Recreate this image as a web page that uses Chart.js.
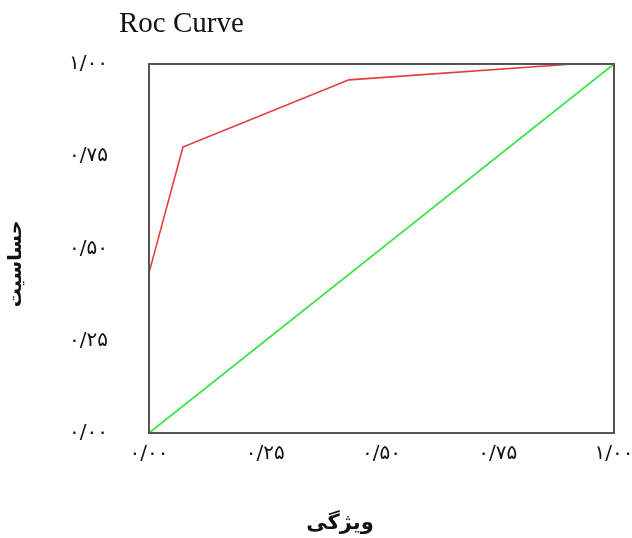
<!DOCTYPE html>
<html>
<head>
<meta charset="utf-8">
<script src="https://cdn.jsdelivr.net/npm/chart.js@4"></script>
<style>
  body { margin: 0; background: #fff; }
  canvas { display: block; }
</style>
</head>
<body>
<canvas id="rocChart" width="632" height="538"></canvas>
<script>
// ROC curve values
const specX = [0, 0.073, 0.43, 0.912, 1];
const sensY = [0.434, 0.775, 0.957, 1, 1];
const refX = [0, 1];
const refY = [0, 1];
const tickValues = [0, 0.25, 0.5, 0.75, 1];
const tickLabels = ['۰/۰۰', '۰/۲۵', '۰/۵۰', '۰/۷۵', '۱/۰۰'];
const chartTitle = 'Roc Curve';
const xTitle = 'ویژگی';
const yTitle = 'حساسیت';

const toPoints = (xs, ys) => xs.map((x, i) => ({ x: x, y: ys[i] }));

// frame + titles drawn on top of the chart
const framePlugin = {
  id: 'frame',
  afterDraw(chart) {
    const { ctx, chartArea } = chart;
    ctx.save();
    ctx.strokeStyle = '#555';
    ctx.lineWidth = 2;
    ctx.strokeRect(chartArea.left, chartArea.top, chartArea.right - chartArea.left, chartArea.bottom - chartArea.top);

    ctx.fillStyle = '#111';
    ctx.textBaseline = 'middle';
    ctx.textAlign = 'left';
    ctx.font = '29px "Liberation Serif"';
    ctx.fillText(chartTitle, 119, 24);

    ctx.textAlign = 'center';
    ctx.font = 'bold 21px "DejaVu Sans"';
    ctx.fillText(xTitle, 340, 524);

    ctx.font = 'bold 19px "DejaVu Sans"';
    ctx.translate(16, 264);
    ctx.rotate(-Math.PI / 2);
    ctx.fillText(yTitle, 0, 0);
    ctx.restore();
  }
};

const axisCommon = {
  type: 'linear',
  min: 0,
  max: 1,
  afterBuildTicks: scale => { scale.ticks = tickValues.map(v => ({ value: v })); },
  grid: { display: false, drawTicks: true, tickLength: 5, tickColor: '#555', tickWidth: 2 },
  border: { display: true, color: '#555', width: 2 }
};

new Chart(document.getElementById('rocChart'), {
  type: 'scatter',
  data: {
    datasets: [
      {
        data: toPoints(specX, sensY),
        showLine: true,
        borderColor: '#e8393b',
        borderWidth: 1.6,
        pointRadius: 0,
        clip: 4
      },
      {
        data: toPoints(refX, refY),
        showLine: true,
        borderColor: '#3ee34a',
        borderWidth: 1.6,
        pointRadius: 0,
        clip: 4
      }
    ]
  },
  options: {
    responsive: false,
    animation: false,
    layout: { padding: { top: 64, right: 18, left: 0, bottom: 0 } },
    plugins: { legend: { display: false }, tooltip: { enabled: false } },
    scales: {
      x: Object.assign({}, axisCommon, {
        afterFit: s => { s.height = 105; s.paddingLeft = 0; s.paddingRight = 0; },
        ticks: {
          color: '#111',
          font: { family: 'DejaVu Sans', size: 20 },
          padding: 4,
          maxRotation: 0,
          callback: (v, i) => tickLabels[i]
        }
      }),
      y: Object.assign({}, axisCommon, {
        afterFit: s => { s.width = 149; s.paddingTop = 0; s.paddingBottom = 0; },
        ticks: {
          color: '#111',
          font: { family: 'DejaVu Sans', size: 20 },
          padding: 36,
          callback: (v, i) => tickLabels[i]
        }
      })
    }
  },
  plugins: [framePlugin]
});
</script>
</body>
</html>
